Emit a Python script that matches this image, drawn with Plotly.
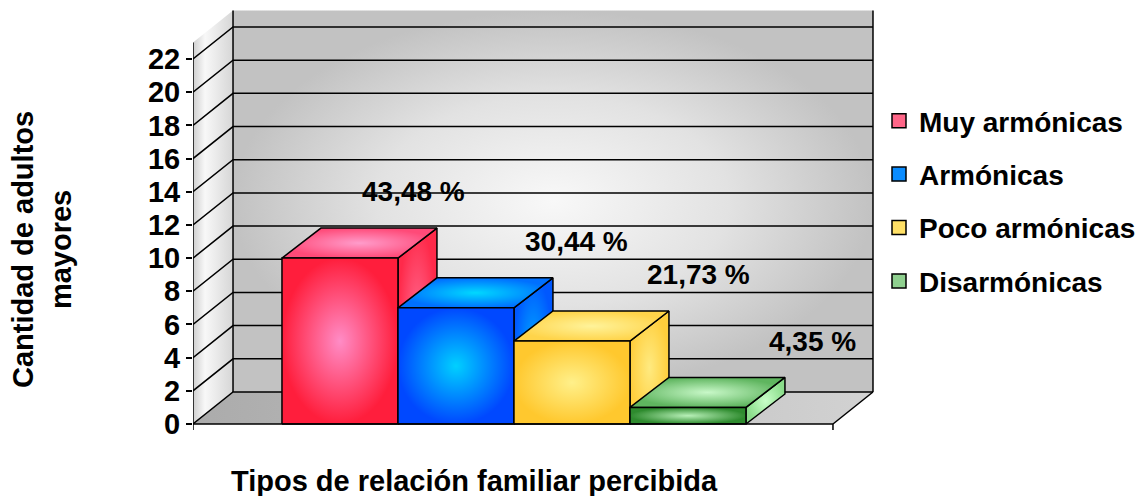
import plotly.graph_objects as go

# ---------------- data ----------------
categories = ["Muy armónicas", "Armónicas", "Poco armónicas", "Disarmónicas"]
counts = [10, 7, 5, 1]
percents = [43.48, 30.44, 21.73, 4.35]
y_ticks = list(range(0, 23, 2))

# ---------------- styles ----------------
FONT = "Liberation Sans, Arial, sans-serif"
face_center = ["#FF8CC6", "#00D0FF", "#FFF08A", "#B8F0B8"]
face_edge = ["#FF1E3C", "#0048FF", "#FFC82E", "#2E8B2E"]
top_center = ["#FF9CCB", "#00D8FF", "#FFF39A", "#C8F8C8"]
top_edge = ["#FF4A78", "#0070FF", "#FFD44A", "#5FB55F"]
side_center = ["#FF6A90", "#00A8FF", "#FFEA80", "#C8FFC8"]
side_edge = ["#FF2A4A", "#0058FF", "#FFCE3C", "#8ADC8A"]
legend_col = ["#FF6688", "#0A8CFF", "#FFE066", "#8FD08F"]
label_dx = [0.63, 1.04, 1.09, 1.07]   # label position offsets (category units)
label_dy = 4.0

# geometry of the pseudo-3D box (axis units)
X0, X1 = -1.267, 4.25        # front floor edge
DX, DY = 0.345, 1.93         # wall depth
BDX, BDY = 0.336, 1.81       # bar depth
YTOP = 23
PXU = 16.59                  # px per y unit
PXX = 116                    # px per category unit

W, H = 1144, 496
ML, MR, MT, MB = 193, 264, 8, 64
pw = W - ML - MR
ph = H - MT - MB
xr = [X0, X0 + pw / PXX]
y_lo = -((H - MB) - 424) / PXU
yr = [y_lo, y_lo + ph / PXU]

fig = go.Figure()


def poly(xs, ys, grad_type, cs, lw=0, lc="black"):
    fig.add_trace(go.Scatter(
        x=xs + [xs[0]], y=ys + [ys[0]], mode="lines", fill="toself",
        fillgradient=dict(type=grad_type, colorscale=cs),
        line=dict(width=lw, color=lc), hoverinfo="skip", showlegend=False))


def lines(xs, ys, width=1.5, color="black"):
    fig.add_trace(go.Scatter(x=xs, y=ys, mode="lines",
                             line=dict(width=width, color=color),
                             hoverinfo="skip", showlegend=False))


# floor
poly([X0, X1, X1 + DX, X0 + DX], [0, 0, DY, DY], "horizontal",
     [[0, "#ABABAB"], [1, "#D2D2D2"]])
# left wall
poly([X0, X0, X0 + DX, X0 + DX], [0, YTOP, YTOP + DY, DY], "horizontal",
     [[0, "#CFCFCF"], [0.3, "#F8F8F8"], [1, "#D6D6D6"]])
# back wall
poly([X0 + DX, X1 + DX, X1 + DX, X0 + DX], [DY, DY, YTOP + DY, YTOP + DY], "radial",
     [[0, "#F8F8F8"], [0.55, "#E2E2E2"], [1, "#C2C2C2"]])

# gridlines on back wall and left wall
gx, gy = [], []
for v in y_ticks:
    gx += [X0, X0 + DX, X1 + DX, None]
    gy += [v, v + DY, v + DY, None]
lines(gx, gy, 1.5)

# wall edges
lines([X0 + DX, X0 + DX], [DY, YTOP + DY], 1.5)
lines([X1 + DX, X1 + DX, None, X1, X1 + DX], [DY, YTOP + DY, None, 0, DY], 1.5)

# bars
for i, v in enumerate(counts):
    xl, xr_ = i - 0.5, i + 0.5
    poly([xr_, xr_ + BDX, xr_ + BDX, xr_], [0, BDY, v + BDY, v], "radial",
         [[0, side_center[i]], [1, side_edge[i]]], lw=1.5)
    poly([xl, xr_, xr_ + BDX, xl + BDX], [v, v, v + BDY, v + BDY], "radial",
         [[0, top_center[i]], [1, top_edge[i]]], lw=1.5)
    poly([xl, xr_, xr_, xl], [0, 0, v, v], "radial",
         [[0, face_center[i]], [1, face_edge[i]]], lw=1.5)

# front axis lines (left wall front edge, floor front edge) and end ticks
t = 6 / PXU
lines([X0, X0, X1, None, X0, X0, None, X1, X1], [YTOP, 0, 0, None, 0, -t, None, 0, -t], 1.5)

# legend entries
for i, c in enumerate(categories):
    fig.add_trace(go.Scatter(
        x=[None], y=[None], mode="markers", name=c, legendgroup=c,
        marker=dict(symbol="square", size=14, color=legend_col[i],
                    line=dict(width=1.5, color="black")),
        showlegend=True))

# data labels
for i, (v, p) in enumerate(zip(counts, percents)):
    fig.add_annotation(x=i + label_dx[i], y=v + label_dy, xref="x", yref="y",
                       text=f"{p:.2f}".replace(".", ",") + " %", showarrow=False,
                       font=dict(family=FONT, size=28, color="black", weight="bold"))

# axis titles
fig.add_annotation(x=(42 - ML) / pw, y=(H - MB - 250) / ph, xref="paper", yref="paper",
                   xanchor="center", yanchor="middle",
                   text="Cantidad de adultos<br>mayores", textangle=-90, showarrow=False,
                   font=dict(family=FONT, size=29, color="black", weight="bold"))
fig.add_annotation(x=(474 - ML) / pw, y=(H - MB - 481) / ph, xref="paper", yref="paper",
                   xanchor="center", yanchor="middle",
                   text="Tipos de relación familiar percibida", showarrow=False,
                   font=dict(family=FONT, size=29, color="black", weight="bold"))

fig.update_layout(
    width=W, height=H, autosize=False,
    margin=dict(l=ML, r=MR, t=MT, b=MB, autoexpand=False),
    paper_bgcolor="white", plot_bgcolor="rgba(0,0,0,0)",
    xaxis=dict(range=xr, showgrid=False, zeroline=False, showline=False,
               showticklabels=False, ticks="", fixedrange=True),
    yaxis=dict(range=yr, tickvals=y_ticks, ticks="outside", ticklen=6, tickwidth=1.5,
               tickcolor="black", showgrid=False, zeroline=False, showline=False,
               tickfont=dict(family=FONT, size=29, color="black", weight="bold"),
               fixedrange=True),
    legend=dict(x=(874 - ML) / pw, xanchor="left", y=(H - MB - 96) / ph, yanchor="top",
                bgcolor="white", borderwidth=0, traceorder="grouped", tracegroupgap=14,
                indentation=5,
                font=dict(family=FONT, size=28, color="black", weight="bold")),
    showlegend=True,
)

fig.write_html("out.html", config={"displayModeBar": False},
               post_script="document.body.style.margin='0';document.body.style.overflow='hidden';")
